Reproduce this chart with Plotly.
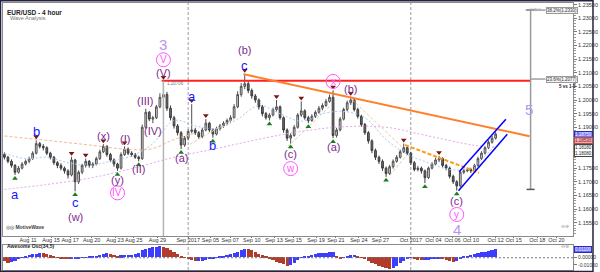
import plotly.graph_objects as go

# ---------------- data (8-hour bars, index 0 = 1 Sep 2017) ----------------
bar_index = list(range(-52, 88))

opens = [
 1.1800, 1.1790, 1.1775, 1.1760, 1.1735, 1.1750, 1.1765, 1.1775, 1.1785, 1.1805,
 1.1840, 1.1830, 1.1825, 1.1805, 1.1790, 1.1770, 1.1760, 1.1750, 1.1740, 1.1725,
 1.1780, 1.1700, 1.1735, 1.1760, 1.1775, 1.1760, 1.1765, 1.1785, 1.1810, 1.1830,
 1.1800, 1.1780, 1.1765, 1.1750, 1.1800, 1.1820, 1.1805, 1.1800, 1.1790, 1.1785,
 1.1900, 1.1955, 1.1930, 1.1935, 1.1975, 1.2010, 1.2020, 1.1970, 1.1935, 1.1905,
 1.1880, 1.1835, 1.1860, 1.1885, 1.1890, 1.1880, 1.1865, 1.1890, 1.1915, 1.1890,
 1.1875, 1.1895, 1.1905, 1.1915, 1.1925, 1.1935, 1.1975, 1.2020, 1.2050, 1.2060,
 1.2035, 1.2015, 1.2000, 1.1975, 1.1950, 1.1935, 1.1945, 1.1965, 1.1975, 1.1935,
 1.1890, 1.1860, 1.1870, 1.1900, 1.1945, 1.1960, 1.1935, 1.1925, 1.1940, 1.1955,
 1.1970, 1.1980, 1.1995, 1.2010, 1.1870, 1.1890, 1.1930, 1.1965, 1.1990, 1.2000,
 1.1965, 1.1940, 1.1910, 1.1880, 1.1850, 1.1815, 1.1790, 1.1775, 1.1750, 1.1730,
 1.1755, 1.1775, 1.1790, 1.1810, 1.1825, 1.1805, 1.1770, 1.1745, 1.1750, 1.1740,
 1.1715, 1.1750, 1.1765, 1.1780, 1.1785, 1.1760, 1.1750, 1.1720, 1.1700, 1.1685,
 1.1735, 1.1740, 1.1745, 1.1740, 1.1760, 1.1785, 1.1805, 1.1825, 1.1845, 1.1860,
]
highs = [
 1.1808, 1.1795, 1.1782, 1.1765, 1.1758, 1.1772, 1.1782, 1.1792, 1.1812, 1.1852,
 1.1846, 1.1838, 1.1830, 1.1810, 1.1795, 1.1776, 1.1768, 1.1756, 1.1746, 1.1792,
 1.1784, 1.1742, 1.1766, 1.1785, 1.1780, 1.1772, 1.1792, 1.1818, 1.1838, 1.1834,
 1.1806, 1.1786, 1.1770, 1.1808, 1.1830, 1.1826, 1.1812, 1.1806, 1.1796, 1.1910,
 1.1968, 1.1960, 1.1942, 1.1982, 1.2025, 1.20706, 1.2030, 1.1980, 1.1942, 1.1912,
 1.1886, 1.1868, 1.1892, 1.1985, 1.1898, 1.1886, 1.1898, 1.1930, 1.1920, 1.1896,
 1.1902, 1.1912, 1.1922, 1.1932, 1.1944, 1.1985, 1.2032, 1.2062, 1.2096, 1.2068,
 1.2042, 1.2022, 1.2006, 1.1982, 1.1956, 1.1952, 1.1972, 1.2000, 1.1980, 1.1940,
 1.1896, 1.1878, 1.1908, 1.1952, 1.1995, 1.1966, 1.1942, 1.1948, 1.1962, 1.1978,
 1.1988, 1.2004, 1.2020, 1.2035, 1.1898, 1.1938, 1.1972, 1.1998, 1.2012, 1.2006,
 1.1972, 1.1946, 1.1916, 1.1886, 1.1856, 1.1822, 1.1796, 1.1782, 1.1756, 1.1762,
 1.1782, 1.1798, 1.1818, 1.1840, 1.1830, 1.1810, 1.1776, 1.1758, 1.1756, 1.1745,
 1.1756, 1.1772, 1.1788, 1.1795, 1.1790, 1.1766, 1.1756, 1.1726, 1.1706, 1.1742,
 1.1748, 1.1752, 1.1750, 1.1766, 1.1792, 1.1812, 1.1832, 1.1852, 1.1868, 1.1882,
]
lows = [
 1.1782, 1.1768, 1.1752, 1.1725, 1.1730, 1.1745, 1.1760, 1.1768, 1.1780, 1.1800,
 1.1822, 1.1815, 1.1798, 1.1782, 1.1762, 1.1750, 1.1742, 1.1730, 1.1712, 1.1720,
 1.1665, 1.1692, 1.1728, 1.1752, 1.1752, 1.1750, 1.1760, 1.1780, 1.1805, 1.1792,
 1.1772, 1.1755, 1.1740, 1.1745, 1.1795, 1.1798, 1.1792, 1.1784, 1.1775, 1.1780,
 1.1895, 1.1922, 1.1915, 1.1930, 1.1970, 1.2000, 1.1960, 1.1925, 1.1895, 1.1870,
 1.1820, 1.1828, 1.1852, 1.1878, 1.1872, 1.1858, 1.1860, 1.1885, 1.1882, 1.1862,
 1.1870, 1.1888, 1.1898, 1.1908, 1.1918, 1.1930, 1.1970, 1.2012, 1.2040, 1.2025,
 1.2005, 1.1990, 1.1965, 1.1940, 1.1928, 1.1925, 1.1940, 1.1958, 1.1928, 1.1880,
 1.1850, 1.1840, 1.1865, 1.1895, 1.1938, 1.1928, 1.1915, 1.1920, 1.1934, 1.1950,
 1.1962, 1.1975, 1.1990, 1.1860, 1.1862, 1.1885, 1.1925, 1.1958, 1.1982, 1.1958,
 1.1932, 1.1902, 1.1872, 1.1840, 1.1805, 1.1780, 1.1765, 1.1740, 1.1718, 1.1725,
 1.1748, 1.1770, 1.1785, 1.1805, 1.1798, 1.1762, 1.1738, 1.1738, 1.1730, 1.1695,
 1.1710, 1.1745, 1.1760, 1.1772, 1.1752, 1.1742, 1.1712, 1.1692, 1.1668, 1.1680,
 1.1728, 1.1735, 1.1732, 1.1735, 1.1755, 1.1780, 1.1800, 1.1820, 1.1840, 1.1855,
]
closes = [
 1.1790, 1.1775, 1.1760, 1.1735, 1.1750, 1.1765, 1.1775, 1.1785, 1.1805, 1.1840,
 1.1830, 1.1825, 1.1805, 1.1790, 1.1770, 1.1760, 1.1750, 1.1740, 1.1725, 1.1780,
 1.1700, 1.1735, 1.1760, 1.1775, 1.1760, 1.1765, 1.1785, 1.1810, 1.1830, 1.1800,
 1.1780, 1.1765, 1.1750, 1.1800, 1.1820, 1.1805, 1.1800, 1.1790, 1.1785, 1.1900,
 1.1955, 1.1930, 1.1935, 1.1975, 1.2010, 1.2020, 1.1970, 1.1935, 1.1905, 1.1880,
 1.1835, 1.1860, 1.1885, 1.1890, 1.1880, 1.1865, 1.1890, 1.1915, 1.1890, 1.1875,
 1.1895, 1.1905, 1.1915, 1.1925, 1.1935, 1.1975, 1.2020, 1.2050, 1.2060, 1.2035,
 1.2015, 1.2000, 1.1975, 1.1950, 1.1935, 1.1945, 1.1965, 1.1975, 1.1935, 1.1890,
 1.1860, 1.1870, 1.1900, 1.1945, 1.1960, 1.1935, 1.1925, 1.1940, 1.1955, 1.1970,
 1.1980, 1.1995, 1.2010, 1.1870, 1.1890, 1.1930, 1.1965, 1.1990, 1.2000, 1.1965,
 1.1940, 1.1910, 1.1880, 1.1850, 1.1815, 1.1790, 1.1775, 1.1750, 1.1730, 1.1755,
 1.1775, 1.1790, 1.1810, 1.1825, 1.1805, 1.1770, 1.1745, 1.1750, 1.1740, 1.1715,
 1.1750, 1.1765, 1.1780, 1.1785, 1.1760, 1.1750, 1.1720, 1.1700, 1.1685, 1.1735,
 1.1740, 1.1745, 1.1740, 1.1760, 1.1785, 1.1805, 1.1825, 1.1845, 1.1860, 1.1875,
]
ao_values = [
 -0.0050, -0.0075, -0.0070, -0.0055, -0.0030, -0.0005, 0.0015, 0.0030, 0.0040, 0.0050,
 0.0060, 0.0055, 0.0040, 0.0025, 0.0010, -0.0005, -0.0020, -0.0025, -0.0030, -0.0030,
 -0.0025, -0.0015, -0.0005, 0.0003, 0.0010, 0.0012, 0.0020, 0.0035, 0.0050, 0.0055,
 0.0040, 0.0028, 0.0020, 0.0025, 0.0030, 0.0030, 0.0030, 0.0045, 0.0065, 0.0095,
 0.0115, 0.0130, 0.0145, 0.0150, 0.0160, 0.0150, 0.0125, 0.0100, 0.0070, 0.0045,
 0.0015, -0.0010, -0.0030, -0.0040, -0.0050, -0.0050, -0.0050, -0.0040, -0.0030, -0.0020,
 -0.0010, 0.0005, 0.0015, 0.0030, 0.0045, 0.0060, 0.0080, 0.0100, 0.0120, 0.0115,
 0.0095, 0.0070, 0.0045, 0.0025, 0.0005, -0.0015, -0.0040, -0.0060, -0.0085, -0.0100,
 -0.0115, -0.0110, -0.0080, -0.0040, -0.0005, 0.0010, 0.0020, 0.0030, 0.0045, 0.0055,
 0.0060, 0.0065, 0.0070, 0.0080, 0.0020, -0.0025, -0.0010, 0.0010, 0.0025, 0.0030,
 0.0015, -0.0010, -0.0030, -0.0050, -0.0075, -0.0095, -0.0120, -0.0140, -0.0155, -0.0160,
 -0.0145, -0.0120, -0.0080, -0.0050, -0.0020, -0.0010, -0.0020, -0.0035, -0.0040, -0.0040,
 -0.0035, -0.0030, -0.0025, -0.0020, -0.0030, -0.0040, -0.0050, -0.0060, -0.0050, -0.0020,
 0.0005, 0.0020, 0.0030, 0.0045, 0.0060, 0.0070, 0.0080, 0.0090, 0.0100, 0.0110,
]

# moving averages (sparse points)
ma_slow_bars = [-52, -40, -28, -16, -4, 8, 20, 32, 44, 56, 68, 80, 87]
ma_slow_vals = [1.1672, 1.1690, 1.1713, 1.1748, 1.1790, 1.1822, 1.1856, 1.1885, 1.1902, 1.1900, 1.1868, 1.1836, 1.1826]
ma_fast_bars = [-52, -46, -40, -34, -28, -22, -16, -10, -4, 2, 8, 14, 20, 26, 32, 38, 44, 50, 56, 62, 68, 74, 80, 87]
ma_fast_vals = [1.1805, 1.1785, 1.1790, 1.1770, 1.1760, 1.1775, 1.1795, 1.1840, 1.1925, 1.1905, 1.1895, 1.1930,
                1.1980, 1.1950, 1.1922, 1.1950, 1.1958, 1.1935, 1.1855, 1.1800, 1.1770, 1.1745, 1.1752, 1.1838]
ma_mid_bars = [-52, -40, -28, -16, -10, -4, 2]
ma_mid_vals = [1.1868, 1.1852, 1.1835, 1.1818, 1.1822, 1.1855, 1.1878]

# drawn lines (bar, price)
trend_bars, trend_prices = [15.65, 96.6], [1.2095, 1.1867]
res_bars = [-7.5, 96.9]
dash_bars, dash_prices = [61.4, 82.3], [1.1835, 1.1733]
chan_up_bars, chan_up_prices = [76.7, 89.9], [1.1737, 1.1929]
chan_lo_bars, chan_lo_prices = [76.5, 90.3], [1.1667, 1.1874]
thin_segments = [
    ([0.5, 13.5], [1.1838, 1.1935], '#f0c8a8'),
    ([28.2, 40.0], [1.1829, 1.1976], '#cfd6a6'),
    ([46.5, 60.4], [1.2000, 1.1829], '#f0c8a8'),
    ([57.1, 61.9], [1.1725, 1.1798], '#d8cc9c'),
]
fib_bar = 96.9
fib_low, fib_high = 1.1672, 1.2330
fib_levels = [1.2077, 1.2330]
fib_pcts = ['23.6', '38.2']
label5_price = 1.1966

swing_high_bars = [-43, -33, -29, -24, -18, -7, 1, 5, 16, 25, 32, 41, 46, 61, 71]
swing_low_bars = [-49, -32, -20, -14, -2, 7, 23, 29, 34, 41, 56, 67, 76]

date_tick_pos = [-45.3, -38.8, -33.4, -27.3, -20.7, -15.4, -8.7, 0, 6.3, 11.9, 18.0, 24.3, 29.7,
                 36.2, 41.8, 48.3, 54.4, 63, 69.4, 74.8, 80.0, 87.0, 92.1, 98.8, 104.2]
date_tick_text = ['Aug 11', 'Aug 15', 'Aug 17', 'Aug 20', 'Aug 23', 'Aug 25', 'Aug 29', 'Sep 2017',
                  'Sep 05', 'Sep 07', 'Sep 10', 'Sep 13', 'Sep 15', 'Sep 19', 'Sep 21', 'Sep 24',
                  'Sep 27', 'Oct 2017', 'Oct 04', 'Oct 06', 'Oct 10', 'Oct 12', 'Oct 15', 'Oct 18', 'Oct 20']
month_bars = [0, 63]
price_ticks = [1.155, 1.160, 1.165, 1.170, 1.175, 1.190, 1.195, 1.200,
               1.205, 1.210, 1.215, 1.220, 1.225, 1.230, 1.235]
side_box_vals = [1.1853, 1.1818, 1.1808]

# wave labels: (bar, side, offset px, text, style)
wave_labels = [
    (-49, 'low', 20, 'a', 'blue'),
    (-43, 'high', 9, 'b', 'blue'),
    (-32, 'low', 11, 'c', 'blue'), (-32, 'low', 26, '(w)', 'purple'),
    (-24, 'high', 8, '(x)', 'purple'),
    (-20, 'low', 9, '(y)', 'purple'), (-20, 'low', 22, 'IV', 'pink'),
    (-18, 'high', 7, '(I)', 'purple'),
    (-14, 'low', 8, '(II)', 'purple'),
    (-12, 'high', 8, '(III)', 'purple'),
    (-10, 'low', 8, '(IV)', 'purple'),
    (-7, 'high', 8, '(V)', 'purple'), (-7, 'high', 21, 'V', 'pink'), (-7, 'high', 36, '3', 'lav'),
    (-2, 'low', 9, '(a)', 'purple'),
    (1, 'high', 8, 'a', 'blue'),
    (7, 'low', 8, 'b', 'blue'),
    (16, 'high', 8, 'c', 'blue'), (16, 'high', 24, '(b)', 'purple'),
    (29, 'low', 10, '(c)', 'purple'), (29, 'low', 25, 'w', 'pink'),
    (41, 'high', 9, 'x', 'pink'),
    (41, 'low', 9, '(a)', 'purple'),
    (46, 'high', 8, '(b)', 'purple'),
    (76, 'low', 10, '(c)', 'purple'), (76, 'low', 24, 'y', 'pink'), (76, 'low', 39, '4', 'lav'),
]

# ---------------- layout constants ----------------
W, H = 600, 272
ML, MR, MT, MB = 3, 21, 3, 2
X_RANGE = [-52.4, 108.9]
Y_RANGE = [1.1501, 1.2356]
MAIN_DOM = [0.1273, 1.0]
OSC_DOM = [0.0, 0.0918]
PLOT_H = H - MT - MB
PLOT_W = W - ML - MR
PX_PER_PRICE = PLOT_H * (MAIN_DOM[1] - MAIN_DOM[0]) / (Y_RANGE[1] - Y_RANGE[0])
FONT = 'Liberation Sans, Arial, sans-serif'

BLUE = '#1717ff'
PURPLE = '#7d2a8e'
PINK = '#ff55ff'
LAV = '#b895ee'
STYLES = {
    'blue': dict(size=13, color=BLUE),
    'purple': dict(size=11, color=PURPLE),
    'pink': dict(size=10, color=PINK),
    'lav': dict(size=15, color=LAV),
}

def pos(k):
    return bar_index.index(k)

fig = go.Figure()

# moving averages
fig.add_trace(go.Scatter(x=ma_slow_bars, y=ma_slow_vals, mode='lines', line=dict(color='#e3a8e3', width=1, dash='2px,2px', shape='spline'), hoverinfo='skip'))
fig.add_trace(go.Scatter(x=ma_fast_bars, y=ma_fast_vals, mode='lines', line=dict(color='#a9cbf2', width=1, dash='2px,2px', shape='spline'), hoverinfo='skip'))
fig.add_trace(go.Scatter(x=ma_mid_bars, y=ma_mid_vals, mode='lines', line=dict(color='#f4b994', width=1, dash='3px,2px', shape='spline'), hoverinfo='skip'))
for sx, sy, col in thin_segments:
    fig.add_trace(go.Scatter(x=sx, y=sy, mode='lines', line=dict(color=col, width=1, dash='3px,2px'), hoverinfo='skip'))

# candles
fig.add_trace(go.Candlestick(
    x=bar_index, open=opens, high=highs, low=lows, close=closes,
    increasing=dict(line=dict(color='#505050', width=1), fillcolor='#d6d6d6'),
    decreasing=dict(line=dict(color='#3c3c3c', width=1), fillcolor='#707070'),
    whiskerwidth=0, hoverinfo='skip'))

# swing markers
tri_off = 3.5 / PX_PER_PRICE
fig.add_trace(go.Scatter(x=swing_high_bars, y=[highs[pos(k)] + tri_off for k in swing_high_bars], mode='markers',
                         marker=dict(symbol='triangle-down', size=5, color='#7a1414', line=dict(width=0)), hoverinfo='skip'))
fig.add_trace(go.Scatter(x=swing_low_bars, y=[lows[pos(k)] - tri_off for k in swing_low_bars], mode='markers',
                         marker=dict(symbol='triangle-up', size=5, color='#1d7a1d', line=dict(width=0)), hoverinfo='skip'))

# trend lines
k_top = swing_high_bars[5]
fig.add_trace(go.Scatter(x=res_bars, y=[highs[pos(k_top)]] * 2, mode='lines', line=dict(color='#ff2020', width=2), hoverinfo='skip'))
fig.add_trace(go.Scatter(x=trend_bars, y=trend_prices, mode='lines', line=dict(color='#ff7f2a', width=2), hoverinfo='skip'))
fig.add_trace(go.Scatter(x=dash_bars, y=dash_prices, mode='lines', line=dict(color='#ff9a1a', width=2, dash='4px,2px'), hoverinfo='skip'))
fig.add_trace(go.Scatter(x=chan_up_bars, y=chan_up_prices, mode='lines', line=dict(color='#0000ff', width=1.5), hoverinfo='skip'))
fig.add_trace(go.Scatter(x=chan_lo_bars, y=chan_lo_prices, mode='lines', line=dict(color='#0000ff', width=1.5), hoverinfo='skip'))

# fib vertical measure
fig.add_trace(go.Scatter(x=[fib_bar, fib_bar], y=[fib_low, fib_high], mode='lines', line=dict(color='#9a9a9a', width=1.5), hoverinfo='skip'))
# wave 3 time marker
fig.add_trace(go.Scatter(x=[k_top, k_top], y=[highs[pos(k_top)], Y_RANGE[0]], mode='lines', line=dict(color='#b4b4b4', width=1.5), hoverinfo='skip'))

# awesome oscillator
ao_colors = ['#3d3dff' if (i > 0 and v >= ao_values[i - 1]) else '#b23c2c' for i, v in enumerate(ao_values)]
fig.add_trace(go.Bar(x=bar_index, y=ao_values, marker=dict(color=ao_colors, line=dict(width=0)), width=0.9,
                     xaxis='x2', yaxis='y2', hoverinfo='skip'))

shapes = []
annotations = []

# month separators
for mb in month_bars:
    shapes.append(dict(type='line', xref='x', yref='paper', x0=mb, x1=mb, y0=0, y1=1,
                       line=dict(color='#9c9c9c', width=1, dash='3px,2px'), layer='below'))
# oscillator zero line
shapes.append(dict(type='line', xref='paper', yref='y2', x0=0, x1=1, y0=0, y1=0,
                   line=dict(color='#777', width=1, dash='2px,2px')))

# fib end ticks and connectors
for lv in (fib_low, fib_high):
    shapes.append(dict(type='line', xref='x', yref='y', xsizemode='pixel', xanchor=fib_bar, x0=-4, x1=4, y0=lv, y1=lv,
                       line=dict(color='#555', width=1.5)))
for lv in fib_levels:
    shapes.append(dict(type='line', xref='x', yref='y', xsizemode='pixel', xanchor=fib_bar, x0=0, x1=15, y0=lv, y1=lv,
                       line=dict(color='#a0a0a0', width=1.5)))
shapes.append(dict(type='line', xref='x', yref='y', xsizemode='pixel', xanchor=fib_bar, x0=-5, x1=0,
                   y0=fib_levels[1], y1=fib_levels[1], line=dict(color='#a0a0a0', width=1.5)))

# wave labels
for k, side, off, txt, st in wave_labels:
    base = highs[pos(k)] if side == 'high' else lows[pos(k)]
    sgn = 1 if side == 'high' else -1
    annotations.append(dict(x=k, y=base, xref='x', yref='y', text=txt, showarrow=False, yshift=sgn * off,
                            font=dict(family=FONT, **STYLES[st])))
    if st == 'pink':
        c = sgn * off
        shapes.append(dict(type='circle', xref='x', yref='y', xsizemode='pixel', ysizemode='pixel',
                           xanchor=k, yanchor=base, x0=-7, x1=7, y0=c - 7, y1=c + 7,
                           line=dict(color=PINK, width=1)))

annotations.append(dict(x=fib_bar, y=label5_price, xref='x', yref='y', text='5', showarrow=False, xshift=-2,
                        font=dict(family=FONT, size=15, color=LAV)))
annotations.append(dict(x=k_top, y=highs[pos(k_top)], xref='x', yref='y', text=f'{highs[pos(k_top)]:.5f}',
                        showarrow=False, xanchor='left', xshift=2, yshift=-3, font=dict(family=FONT, size=4.5, color='#777')))

# fib boxes
for lv, pct in zip(fib_levels, fib_pcts):
    annotations.append(dict(x=fib_bar, y=lv, xref='x', yref='y', text=f'{pct}%({lv:.4f})', showarrow=False,
                            xanchor='left', xshift=15, font=dict(family=FONT, size=4.5, color='#333'),
                            bgcolor='#f2f2f2', bordercolor='#9a9a9a', borderwidth=1, borderpad=0))
annotations.append(dict(x=fib_bar, y=fib_levels[0], xref='x', yref='y', text='<b>5 vs 1-3</b>', showarrow=False,
                        xanchor='left', xshift=26, yshift=-7, font=dict(family=FONT, size=4.5, color='#222')))

# right-axis value boxes
annotations.append(dict(x=1, y=closes[-1], xref='paper', yref='y', text=f'{closes[-1]:.5f}', showarrow=False,
                        xanchor='left', xshift=1, font=dict(family=FONT, size=4.5, color='#ffffff'),
                        bgcolor='#7373ff', bordercolor='#2b2bb0', borderwidth=1, borderpad=0))
annotations.append(dict(x=1, y=side_box_vals[0], xref='paper', yref='y', text=f'{side_box_vals[0]:.5f}', showarrow=False,
                        xanchor='left', xshift=1, font=dict(family=FONT, size=4.5, color='#7a1f1f'),
                        bgcolor='#f4a9a9', bordercolor='#b05050', borderwidth=1, borderpad=0))
annotations.append(dict(x=1, y=(side_box_vals[1] + side_box_vals[2]) / 2, xref='paper', yref='y',
                        text=f'{side_box_vals[1]:.5f}<br>{side_box_vals[2]:.5f}', showarrow=False,
                        xanchor='left', xshift=1, font=dict(family=FONT, size=4.5, color='#222'),
                        bgcolor='#ffffff', bordercolor='#444', borderwidth=1, borderpad=0))
annotations.append(dict(x=1, y=ao_values[-1], xref='paper', yref='y2', text=f'{ao_values[-1]:.5f}', showarrow=False,
                        xanchor='left', xshift=1, font=dict(family=FONT, size=4.5, color='#ffffff'),
                        bgcolor='#6a6aff', bordercolor='#2b2bb0', borderwidth=1, borderpad=0))

# titles and small texts
def py2paper(py):
    return (H - MB - py) / PLOT_H

def px2paper(px):
    return (px - ML) / PLOT_W

annotations += [
    dict(x=px2paper(5), y=py2paper(6.5), xref='paper', yref='paper', text='<b>EUR/USD - 4 hour</b>', showarrow=False,
         xanchor='left', font=dict(family=FONT, size=6.5, color='#222')),
    dict(x=px2paper(8), y=py2paper(13), xref='paper', yref='paper', text='Wave Analysis', showarrow=False,
         xanchor='left', font=dict(family=FONT, size=5.5, color='#777')),
    dict(x=px2paper(5), y=py2paper(250.5), xref='paper', yref='paper', text='<b>Awesome Osc(34,5)</b>', showarrow=False,
         xanchor='left', font=dict(family=FONT, size=5, color='#222')),
    dict(x=px2paper(4), y=py2paper(232), xref='paper', yref='paper', text='◎◎ <b>MotiveWave</b>', showarrow=False,
         xanchor='left', font=dict(family=FONT, size=5, color='#444')),
    dict(x=px2paper(549), y=py2paper(5), xref='paper', yref='paper', text='⊖⊕⊙', showarrow=False,
         xanchor='right', font=dict(family=FONT, size=4.5, color='#aaa')),
    dict(x=px2paper(577), y=py2paper(231), xref='paper', yref='paper', text='⊖⊕', showarrow=False,
         xanchor='right', font=dict(family=FONT, size=5, color='#aaa')),
    dict(x=px2paper(577), y=py2paper(250.5), xref='paper', yref='paper', text='⊖⊕', showarrow=False,
         xanchor='right', font=dict(family=FONT, size=4.5, color='#aaa')),
]

# outer frame
shapes.append(dict(type='rect', xref='paper', yref='paper', x0=px2paper(0.5), x1=px2paper(599.2),
                   y0=py2paper(271.5), y1=py2paper(0.8), line=dict(color='#23233f', width=1.5)))

axis_common = dict(showline=True, mirror=True, linecolor='#8a8a8a', linewidth=1, showgrid=False, zeroline=False)

fig.update_layout(
    width=W, height=H, margin=dict(l=ML, r=MR, t=MT, b=MB),
    paper_bgcolor='white', plot_bgcolor='white', showlegend=False, hovermode=False,
    font=dict(family=FONT),
    xaxis=dict(domain=[0, 1], range=X_RANGE, anchor='y', tickvals=date_tick_pos, ticktext=date_tick_text,
               tickangle=0, ticks='outside', ticklen=1, tickcolor='#777', tickfont=dict(size=5.5, color='#333'),
               ticklabelstandoff=-3, rangeslider=dict(visible=False), **axis_common),
    yaxis=dict(domain=MAIN_DOM, range=Y_RANGE, side='right', anchor='x', tickvals=price_ticks,
               ticktext=[f'{v:.5f}' for v in price_ticks], ticks='outside', ticklen=3, tickcolor='#777',
               tickfont=dict(size=5.5, color='#333'),
               minor=dict(dtick=0.001, ticks='outside', ticklen=1.5, tickcolor='#999'), **axis_common),
    xaxis2=dict(domain=[0, 1], range=X_RANGE, anchor='y2', matches='x', showticklabels=False, ticks='', **axis_common),
    yaxis2=dict(domain=OSC_DOM, range=[-0.0171, 0.0171], side='right', anchor='x2', tickvals=[0, -0.01],
                ticktext=['0.00000', '-0.01000'], ticks='outside', ticklen=3, tickcolor='#777',
                tickfont=dict(size=5, color='#333'), **axis_common),
    bargap=0,
    shapes=shapes, annotations=annotations,
)

fig.write_html('out.html')
